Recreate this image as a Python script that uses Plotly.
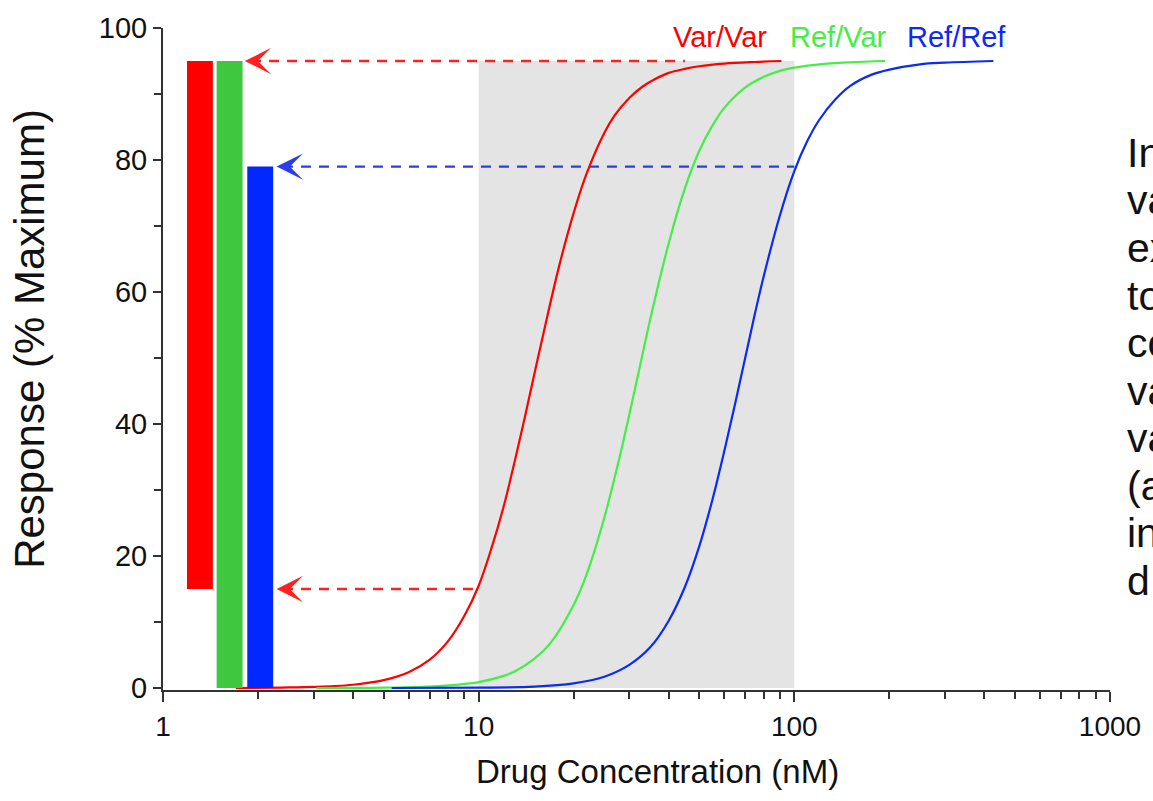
import plotly.graph_objects as go

# ---- data -------------------------------------------------------------
# Concentration (nM) / response (% of maximum) for the three genotypes
var_var_conc = [1.7, 2.5, 3.5, 4, 5, 6, 7, 8, 9, 10, 11, 12, 13, 14, 15, 16, 18, 20,
                22, 25, 27, 30, 33, 36, 40, 45, 50, 60, 75, 91]
var_var_resp = [0, 0.1, 0.3, 0.5, 1.2, 2.4, 4.3, 7.1, 10.9, 15.5, 21.3, 27.5, 34.3,
                41, 47.5, 53.5, 64, 72, 78, 84.1, 86.8, 89.4, 91.1, 92.2, 93.2, 93.8,
                94.2, 94.6, 94.85, 95]

ref_var_conc = [3.06, 5, 7, 10, 12, 13, 15, 17, 20, 22, 25, 28, 30, 32, 35, 40, 45,
                50, 55, 60, 70, 80, 90, 100, 120, 150, 194]
ref_var_resp = [0, 0.06, 0.22, 0.9, 1.84, 2.5, 4.4, 7.0, 12.6, 17.3, 25.8, 35.1, 41.4,
                47.5, 56, 67.4, 75.7, 81.4, 85.2, 87.9, 91, 92.6, 93.5, 94, 94.5,
                94.8, 95]

ref_ref_conc = [5.3, 10, 15, 20, 25, 30, 35, 40, 45, 50, 55, 60, 65, 70, 75, 80, 90,
                100, 110, 120, 135, 150, 175, 200, 250, 300, 427]
ref_ref_resp = [0, 0.05, 0.2, 0.7, 1.7, 3.5, 6.2, 10.2, 15.3, 21.5, 28.5, 35.9, 43.2,
                50.2, 56.7, 62.4, 71.6, 78.3, 82.9, 86.1, 89.2, 91.2, 92.9, 93.7,
                94.5, 94.75, 95]

genotypes = ["Var/Var", "Ref/Var", "Ref/Ref"]

# Therapeutic concentration window (nM) and its response ceiling
window_conc = [10, 100]
window_top = 95

# Response range reached inside the window, per genotype
range_low = [15, 0, 0]
range_high = [95, 95, 79]

# Dashed read-outs: response level and concentration they start from
readout_level = [95, 79, 15]
readout_conc = [45, 100, 10]

x_ticks = [1, 10, 100, 1000]
x_tick_text = ["1", "10", "100", "1000"]
y_ticks = [0, 20, 40, 60, 80, 100]

side_lines = ["In", "va", "ex", "to", "co", "va", "va", "(a", "in", "d"]

# ---- styling ----------------------------------------------------------
FONT = "Liberation Sans, Arial, sans-serif"
line_colors = ["#ff0000", "#44ee44", "#0a2af5"]
bar_colors = ["#ff0000", "#3fc73f", "#0028ff"]
readout_colors = ["#ff2020", "#2a3cf0", "#ff2020"]
bar_pos = [0.117, 0.211, 0.308]          # log10 units on the overlay axis
bar_width = 0.082
readout_tip = [0.259, 0.36, 0.36]        # log10 units
label_pos = [1.763, 2.139, 2.514]        # log10 units

fig = go.Figure()

# shaded concentration window
fig.add_trace(go.Scatter(
    x=[window_conc[0], window_conc[1], window_conc[1], window_conc[0], window_conc[0]],
    y=[0, 0, window_top, window_top, 0],
    fill="toself", fillcolor="#e4e4e4", mode="lines", line=dict(width=0),
    hoverinfo="skip", showlegend=False))

# dashed read-out lines
for lvl, c0, tip, col in zip(readout_level, readout_conc, readout_tip, readout_colors):
    fig.add_trace(go.Scatter(
        x=[10 ** (tip + 0.02), c0], y=[lvl, lvl], mode="lines",
        line=dict(color=col, width=2.4, dash="10px,8px"),
        hoverinfo="skip", showlegend=False))

# dose-response curves
for conc, resp, col, name in zip(
        [var_var_conc, ref_var_conc, ref_ref_conc],
        [var_var_resp, ref_var_resp, ref_ref_resp],
        line_colors, genotypes):
    fig.add_trace(go.Scatter(
        x=conc, y=resp, mode="lines", name=name,
        line=dict(color=col, width=2.2, shape="spline", smoothing=1.0),
        showlegend=False))

# response-range bars
for pos, lo, hi, col, name in zip(bar_pos, range_low, range_high, bar_colors, genotypes):
    fig.add_trace(go.Bar(
        x=[pos], y=[hi - lo], base=[lo], width=bar_width, xaxis="x2",
        marker=dict(color=col, line=dict(width=0)), name=name, showlegend=False))

annotations = []
# arrow heads for the read-outs
for lvl, tip, col in zip(readout_level, readout_tip, readout_colors):
    annotations.append(dict(
        x=tip, y=lvl, ax=tip + 0.05, ay=lvl, xref="x", yref="y",
        axref="x", ayref="y", text="", showarrow=True, arrowhead=3,
        arrowsize=2.2, arrowwidth=2, arrowcolor=col, standoff=0))

# genotype labels
for pos, name, col in zip(label_pos, genotypes, line_colors):
    annotations.append(dict(
        x=pos, y=98.6, xref="x", yref="y", text=name, showarrow=False,
        font=dict(family=FONT, size=29, color=col), xanchor="center", yanchor="middle"))

# axis titles
annotations.append(dict(
    x=-0.1418, y=0.530, xref="paper", yref="paper", text="Response (% Maximum)",
    textangle=-90, showarrow=False, xanchor="center", yanchor="middle",
    font=dict(family=FONT, size=42, color="#111111")))
annotations.append(dict(
    x=0.522, y=-0.1228, xref="paper", yref="paper", text="Drug Concentration (nM)",
    showarrow=False, xanchor="center", yanchor="middle",
    font=dict(family=FONT, size=33, color="#111111")))

# side text column
for i, t in enumerate(side_lines):
    ypix = 148 + 48 * i
    annotations.append(dict(
        x=1.016, y=(690 - ypix) / 668, xref="paper", yref="paper", text=t,
        showarrow=False, xanchor="left", yanchor="middle",
        font=dict(family=FONT, size=41, color="#111111")))

minor_x = [m * d for d in (1, 10, 100) for m in range(2, 10)]

fig.update_layout(
    width=1153, height=801,
    margin=dict(l=163, r=38, t=22, b=111),
    paper_bgcolor="white", plot_bgcolor="white",
    barmode="overlay",
    font=dict(family=FONT, size=28, color="#111111"),
    annotations=annotations,
    xaxis=dict(
        type="log", range=[0, 3], showgrid=False, zeroline=False,
        showline=True, linecolor="#333333", linewidth=2, layer="below traces",
        ticks="outside", ticklen=10, tickwidth=2, tickcolor="#333333",
        tickvals=x_ticks, ticktext=x_tick_text,
        tickfont=dict(family=FONT, size=28, color="#111111"),
        minor=dict(ticks="outside", ticklen=7, tickwidth=2, tickcolor="#333333",
                   tickvals=minor_x, showgrid=False)),
    xaxis2=dict(overlaying="x", range=[0, 3], visible=False, anchor="y"),
    yaxis=dict(
        range=[-0.3, 100], showgrid=False, zeroline=False,
        showline=True, linecolor="#333333", linewidth=2, layer="below traces",
        ticks="outside", ticklen=8, tickwidth=2, tickcolor="#333333",
        tickvals=y_ticks, ticklabelstandoff=0,
        tickfont=dict(family=FONT, size=29, color="#111111"),
        minor=dict(ticks="outside", ticklen=7, tickwidth=2, tickcolor="#333333",
                   dtick=10, showgrid=False)),
)

fig.write_html("out.html")
